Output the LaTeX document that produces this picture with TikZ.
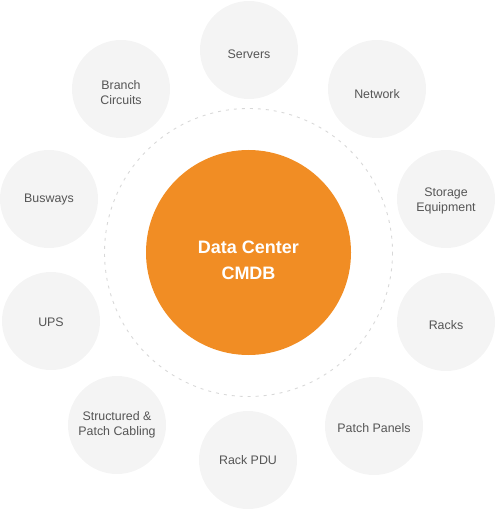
\documentclass[tikz,border=0pt]{standalone}
\usepackage{fontspec}
\setmainfont{Liberation Sans}
\definecolor{bubble}{HTML}{F4F4F4}
\definecolor{txt}{HTML}{555555}
\definecolor{core}{HTML}{F18D24}
\definecolor{ring}{HTML}{D8D8D8}
\begin{document}
\begin{tikzpicture}[x=1pt,y=-1pt,
  bubblestyle/.style={circle,fill=bubble,minimum size=98pt,inner sep=0pt},
  labelstyle/.style={text=txt,align=center,inner sep=0pt,font=\fontsize{12.4}{15}\selectfont},
  corestyle/.style={circle,fill=core,minimum size=205pt,inner sep=0pt},
  corelabel/.style={text=white,align=center,inner sep=0pt,font=\fontsize{18}{26}\selectfont\bfseries},
  ringstyle/.style={draw=ring,line width=0.9pt,dash pattern=on 3pt off 5pt}]
\useasboundingbox (0,0) rectangle (496,510);
\draw[ringstyle] (248.5,252.5) circle[radius=144];
\node[corestyle] (core) at (248.5,252.5) {};
\node[corelabel] (coret) at (248.5,260) {Data Center\\CMDB};
\node[bubblestyle] (servers) at (249,50) {};
\node[labelstyle] (serverst) at (249,54) {Servers};
\node[bubblestyle] (network) at (377,89) {};
\node[labelstyle] (networkt) at (377,94) {Network};
\node[bubblestyle] (storage) at (446,199) {};
\node[labelstyle] (storaget) at (446,200.5) {Storage\\Equipment};
\node[bubblestyle] (racks) at (446,322) {};
\node[labelstyle] (rackst) at (446,325) {Racks};
\node[bubblestyle] (panels) at (374,426) {};
\node[labelstyle] (panelst) at (374,428) {Patch Panels};
\node[bubblestyle] (pdu) at (248,460) {};
\node[labelstyle] (pdut) at (248,460) {Rack PDU};
\node[bubblestyle] (cabling) at (117,425) {};
\node[labelstyle] (cablingt) at (117,425) {Structured \&\\Patch Cabling};
\node[bubblestyle] (ups) at (51,321) {};
\node[labelstyle] (upst) at (51,322) {UPS};
\node[bubblestyle] (busways) at (49,199) {};
\node[labelstyle] (buswayst) at (49,200) {Busways};
\node[bubblestyle] (branch) at (121,89) {};
\node[labelstyle] (brancht) at (121,92.5) {Branch\\Circuits};
\end{tikzpicture}
\end{document}
